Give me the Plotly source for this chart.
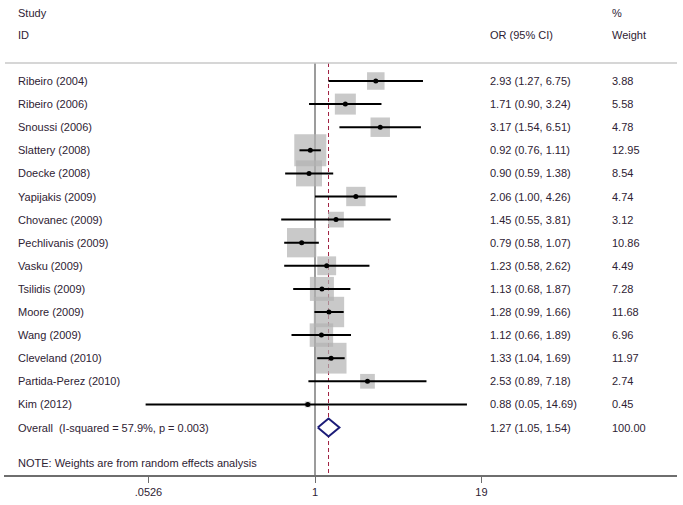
import plotly.graph_objects as go
import math

studies = ["Ribeiro (2004)", "Ribeiro (2006)", "Snoussi (2006)", "Slattery (2008)", "Doecke (2008)",
           "Yapijakis (2009)", "Chovanec (2009)", "Pechlivanis (2009)", "Vasku (2009)", "Tsilidis (2009)",
           "Moore (2009)", "Wang (2009)", "Cleveland (2010)", "Partida-Perez (2010)", "Kim (2012)"]
or_vals = [2.93, 1.71, 3.17, 0.92, 0.90, 2.06, 1.45, 0.79, 1.23, 1.13, 1.28, 1.12, 1.33, 2.53, 0.88]
ci_low = [1.27, 0.90, 1.54, 0.76, 0.59, 1.00, 0.55, 0.58, 0.58, 0.68, 0.99, 0.66, 1.04, 0.89, 0.05]
ci_high = [6.75, 3.24, 6.51, 1.11, 1.38, 4.26, 3.81, 1.07, 2.62, 1.87, 1.66, 1.89, 1.69, 7.18, 14.69]
weights = [3.88, 5.58, 4.78, 12.95, 8.54, 4.74, 3.12, 10.86, 4.49, 7.28, 11.68, 6.96, 11.97, 2.74, 0.45]

overall_label = "Overall  (I-squared = 57.9%, p = 0.003)"
overall_or, overall_lo, overall_hi, overall_w = 1.27, 1.05, 1.54, 100.00
note_text = "NOTE: Weights are from random effects analysis"
tick_vals = [0.0526, 1, 19]
tick_text = [".0526", "1", "19"]

W, H = 683, 505
ML, MR, MT, MB = 4, 6, 0, 30
PW = W - ML - MR
PH = H - MT - MB
x0px, dec_px = 315, 130.2
row0, row_h = 81, 23.1

def px2log(px):
    return (px - x0px) / dec_px

def ypx2row(py):
    return (py - row0) / row_h

def xpaper(px):
    return (px - ML) / PW

n = len(studies)
rows = list(range(n))
overall_row = n

txt_col = "#2e2233"
font = dict(family="Liberation Sans, Arial, sans-serif", size=11, color=txt_col)

fig = go.Figure()

# reference lines (behind boxes)
top_row = ypx2row(63)
bottom_row = ypx2row(475)
fig.add_trace(go.Scatter(x=[1, 1], y=[top_row, bottom_row], mode="lines",
                         line=dict(color="#5a5a5a", width=1.2), hoverinfo="skip", showlegend=False))
fig.add_trace(go.Scatter(x=[overall_or, overall_or], y=[top_row, bottom_row], mode="lines",
                         line=dict(color="#a02040", width=1, dash="4px,3px"), hoverinfo="skip", showlegend=False))

# boxes
box_side = [32 * math.sqrt(w / 12.95) for w in weights]
fig.add_trace(go.Scatter(x=or_vals, y=rows, mode="markers",
                         marker=dict(symbol="square", size=box_side, color="#b2b2b2",
                                     line=dict(width=0)),
                         hoverinfo="skip", showlegend=False))
# CI lines
for i in range(n):
    fig.add_trace(go.Scatter(x=[ci_low[i], ci_high[i]], y=[rows[i], rows[i]], mode="lines",
                             line=dict(color="black", width=2), hoverinfo="skip", showlegend=False))
# point estimates
fig.add_trace(go.Scatter(x=or_vals, y=rows, mode="markers",
                         marker=dict(symbol="circle", size=5, color="black"),
                         hoverinfo="skip", showlegend=False))

# diamond
dh = 0.39
fig.add_trace(go.Scatter(x=[overall_lo, overall_or, overall_hi, overall_or, overall_lo],
                         y=[overall_row, overall_row - dh, overall_row, overall_row + dh, overall_row],
                         mode="lines", fill="toself", fillcolor="white",
                         line=dict(color="#1c1c78", width=2), hoverinfo="skip", showlegend=False))

shapes = [dict(type="line", xref="paper", yref="y", x0=xpaper(5), x1=xpaper(677),
               y0=top_row, y1=top_row, line=dict(color="#c8c8c8", width=1.5))]

ann = []
def add_text(px, row, text):
    ann.append(dict(x=xpaper(px), y=row, xref="paper", yref="y", text=text, showarrow=False,
                    xanchor="left", yanchor="middle", font=font))

add_text(16, ypx2row(13), "Study")
add_text(16, ypx2row(35), "ID")
add_text(488, ypx2row(35), "OR (95% CI)")
add_text(610, ypx2row(13), "%")
add_text(610, ypx2row(35), "Weight")

for i in range(n):
    add_text(16, rows[i], studies[i])
    add_text(488, rows[i], f"{or_vals[i]:.2f} ({ci_low[i]:.2f}, {ci_high[i]:.2f})")
    add_text(610, rows[i], f"{weights[i]:.2f}")
add_text(16, overall_row, overall_label)
add_text(488, overall_row, f"{overall_or:.2f} ({overall_lo:.2f}, {overall_hi:.2f})")
add_text(610, overall_row, f"{overall_w:.2f}")
add_text(16, ypx2row(463), note_text)

fig.update_layout(
    width=W, height=H, margin=dict(l=ML, r=MR, t=MT, b=MB, pad=0),
    paper_bgcolor="white", plot_bgcolor="white",
    shapes=shapes, annotations=ann, showlegend=False,
    xaxis=dict(type="log", range=[px2log(ML), px2log(W - MR)], showgrid=False, zeroline=False,
               showline=True, linecolor="#6e6e6e", linewidth=1.5,
               ticks="outside", ticklen=6, tickcolor="#6e6e6e", tickwidth=1,
               tickvals=tick_vals, ticktext=tick_text,
               tickfont=dict(family="Liberation Sans, Arial, sans-serif", size=11, color=txt_col)),
    yaxis=dict(range=[ypx2row(PH), ypx2row(0)], showgrid=False, zeroline=False,
               showline=False, showticklabels=False, ticks=""),
)

fig.write_html("out.html", config={"displayModeBar": False},
               post_script="document.body.style.margin='0px';document.body.style.padding='0px';")
